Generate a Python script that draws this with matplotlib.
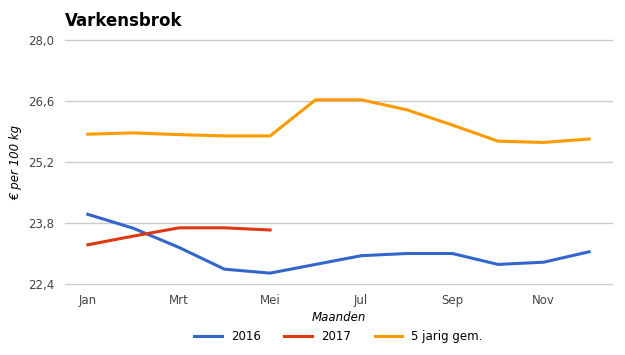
import matplotlib.pyplot as plt
from matplotlib.ticker import FuncFormatter

# Data (euro per 100 kg)
months = ["Jan", "Feb", "Mrt", "Apr", "Mei", "Jun", "Jul", "Aug", "Sep", "Okt", "Nov", "Dec"]
prices_2016 = [24.00, 23.68, 23.24, 22.74, 22.65, 22.85, 23.05, 23.10, 23.10, 22.85, 22.90, 23.14]
prices_2017 = [23.30, 23.50, 23.69, 23.69, 23.64]
avg_5yr = [25.84, 25.87, 25.83, 25.80, 25.80, 26.63, 26.63, 26.40, 26.05, 25.68, 25.65, 25.73]
yticks = [22.4, 23.8, 25.2, 26.6, 28.0]

plt.rcParams['font.family'] = ['DejaVu Sans']

fig = plt.figure(figsize=(6.25, 3.55), dpi=100)
ax = fig.add_axes([0.104, 0.2, 0.875, 0.687])

x = range(len(months))
ax.plot(x, prices_2016, color="#3366CC", lw=2.2, label="2016")
ax.plot(range(len(prices_2017)), prices_2017, color="#DC3912", lw=2.2, label="2017")
ax.plot(x, avg_5yr, color="#FF9900", lw=2.2, label="5 jarig gem.")

ax.set_xlim(-0.5, 11.5)
ax.set_ylim(22.4, 28.0)
ax.set_yticks(yticks)
ax.yaxis.set_major_formatter(FuncFormatter(lambda v, p: f"{v:.1f}".replace(".", ",")))
ax.set_xticks(list(x)[::2])
ax.set_xticklabels(months[::2])

# horizontal gridlines, not clipped so the bottom one shows fully
for yv in yticks:
    ax.axhline(yv, color="#cccccc", lw=1, zorder=0, clip_on=False)
for s in ax.spines.values():
    s.set_visible(False)
ax.tick_params(length=0, labelsize=8.5, colors="#444444")
ax.tick_params(axis="x", pad=7)
ax.tick_params(axis="y", pad=8)

ax.set_xlabel("Maanden", style="italic", fontsize=8.5, labelpad=3)
ax.set_ylabel("€ per 100 kg", style="italic", fontsize=8.5, labelpad=4)

fig.text(0.104, 0.94, "Varkensbrok", fontsize=12, fontweight="bold", va="center")

ax.legend(loc="center", bbox_to_anchor=(0.5, -0.217), ncol=3, frameon=False,
          fontsize=8.5, handlelength=2.3, columnspacing=2.0)

fig.savefig("out.png", dpi=100)
